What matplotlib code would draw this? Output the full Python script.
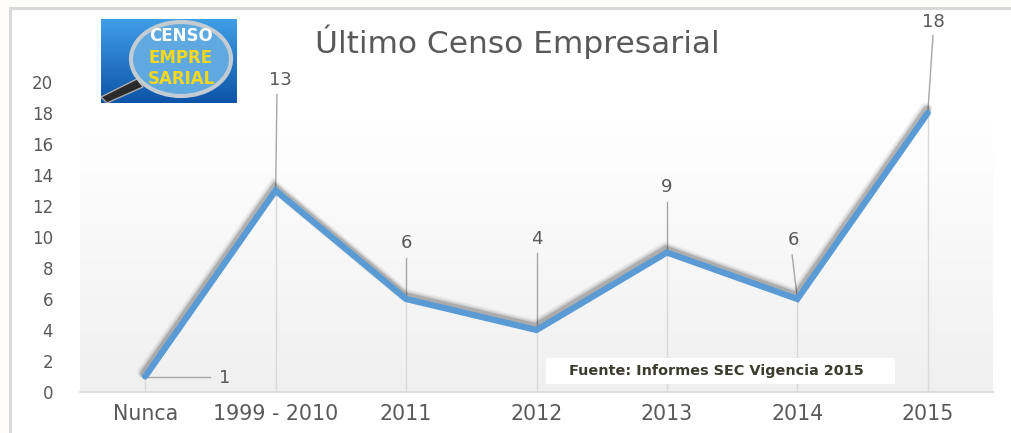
import numpy as np
import matplotlib
matplotlib.use("Agg")
import matplotlib.pyplot as plt
import matplotlib.patheffects as pe
from matplotlib.patches import Rectangle, Ellipse, Polygon

# Chart data
categories = ["Nunca", "1999 - 2010", "2011", "2012", "2013", "2014", "2015"]
values = [1, 13, 6, 4, 9, 6, 18]
y_ticks = [0, 2, 4, 6, 8, 10, 12, 14, 16, 18, 20]
title = "Último Censo Empresarial"
source = "Fuente: Informes SEC Vigencia 2015"

TEXT = "#595959"
LINE = "#5b9bd5"

fig = plt.figure(figsize=(10.11, 4.33), dpi=100, facecolor="#fffdf7")

# white chart frame with light grey border (only left and top edges visible)
fig.patches.append(Rectangle((10 / 1011, -0.02), 1.1, (433 - 8) / 433 + 0.02, transform=fig.transFigure,
                             facecolor="white", edgecolor="#d9d9d9", linewidth=2.2, zorder=-1))

ax = fig.add_axes([80 / 1011, 41 / 433, 913 / 1011, 25 * 15.5 / 433])
ax.set_zorder(1)
ax.set_facecolor("none")
x = np.arange(len(categories))
ax.set_xlim(-0.5, len(categories) - 0.5)
ax.set_ylim(0, 25)

# soft gradient in the plot area
grad = np.linspace(1.0, 0.94, 100).reshape(-1, 1)
ax.imshow(np.dstack([grad, grad, grad]), extent=(-0.5, len(categories) - 0.5, 0, 17.7),
          aspect="auto", origin="upper", zorder=0)

# drop lines from each point to the axis
ax.vlines(x, 0, values, color="#d9d9d9", linewidth=1, zorder=1)

ax.plot(x, values, color=LINE, linewidth=4.5, solid_capstyle="round", solid_joinstyle="miter",
        zorder=3, path_effects=[
            pe.SimpleLineShadow(offset=(-1.2, 3.0), shadow_color="black", alpha=0.06, linewidth=9),
            pe.SimpleLineShadow(offset=(-1.0, 2.6), shadow_color="black", alpha=0.10, linewidth=7),
            pe.SimpleLineShadow(offset=(-0.8, 2.2), shadow_color="black", alpha=0.16, linewidth=5.5),
            pe.Normal()])

# data labels: (label x, label y, leader top x, leader top y)
label_pos = [(0.61, 0.9, 0.50, 1.0), (1.04, 20.1, 1.01, 19.2), (2.0, 9.6, 2.0, 8.65),
             (3.0, 9.9, 3.0, 9.0), (4.0, 13.2, 4.0, 12.25), (4.97, 9.8, 4.96, 8.84),
             (6.04, 23.9, 6.04, 23.0)]
for i, (v, (lx, ly, tx, ty)) in enumerate(zip(values, label_pos)):
    ax.plot([i, tx], [v, ty], color="#a6a6a6", linewidth=1, zorder=2)
    ax.text(lx, ly, str(v), ha="center", va="center", fontsize=13, color=TEXT, zorder=4)

ax.set_xticks(x)
ax.set_xticklabels(categories, fontsize=14.8, color=TEXT)
ax.set_yticks(y_ticks)
ax.set_yticklabels([str(t) for t in y_ticks], fontsize=12, color=TEXT)
ax.tick_params(axis="both", length=0)
ax.tick_params(axis="y", pad=19.5)
ax.tick_params(axis="x", pad=9)
for side in ["left", "right", "top"]:
    ax.spines[side].set_visible(False)
ax.spines["bottom"].set_color("#d9d9d9")
ax.spines["bottom"].set_linewidth(1.2)

fig.text(517 / 1011, (433 - 42) / 433, title, ha="center", va="center", fontsize=22.5, color=TEXT)

# source note box
fig.patches.append(Rectangle((546 / 1011, (433 - 384) / 433), 349 / 1011, 26 / 433,
                             transform=fig.transFigure, facecolor="white", edgecolor="none", zorder=5))
fig.text(716 / 1011, (433 - 371) / 433, source, ha="center", va="center", fontsize=10.4,
         fontweight="bold", color="#3b3b2e", zorder=6)

# logo
lg = fig.add_axes([101 / 1011, (433 - 103) / 433, 136 / 1011, 84 / 433])
lg.set_zorder(7)
lg.set_xlim(0, 136)
lg.set_ylim(84, 0)
lg.axis("off")
bg = np.linspace(0.0, 1.0, 84).reshape(-1, 1)
top_c = np.array([0.25, 0.62, 0.90])
bot_c = np.array([0.05, 0.33, 0.66])
lg.imshow(top_c + bg[..., None] * (bot_c - top_c), extent=(0, 136, 84, 0), aspect="auto", zorder=0)
lg.add_patch(Polygon([[6, 84], [0, 78], [36, 60], [42, 68]], closed=True, facecolor="#2a2a2a",
                     edgecolor="#aaaaaa", linewidth=1, zorder=1))
lg.add_patch(Ellipse((80, 40), 100, 74, facecolor="#5fa8e0", edgecolor="#c3ccd2", linewidth=3, zorder=2))
lg.text(80, 17, "CENSO", ha="center", va="center", fontsize=12, fontweight="bold", color="white", zorder=3)
lg.text(80, 39, "EMPRE", ha="center", va="center", fontsize=12, fontweight="bold", color="#f7d81c", zorder=3)
lg.text(80, 60, "SARIAL", ha="center", va="center", fontsize=12, fontweight="bold", color="#f7d81c", zorder=3)

fig.savefig("out.png", dpi=100, facecolor=fig.get_facecolor())
